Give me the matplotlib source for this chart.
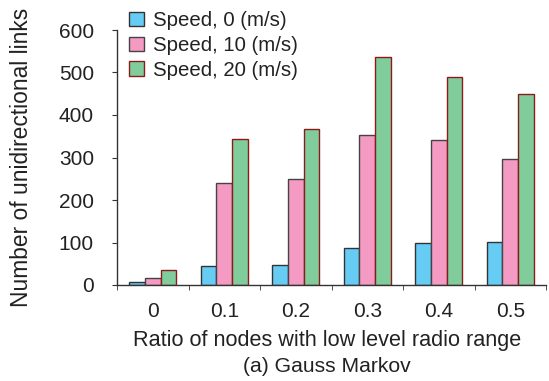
import matplotlib
matplotlib.use("Agg")
import matplotlib.pyplot as plt
import numpy as np

categories = ["0", "0.1", "0.2", "0.3", "0.4", "0.5"]
speed0 = [6, 45, 47, 86, 99, 102]
speed10 = [16, 241, 249, 354, 340, 296]
speed20 = [36, 343, 368, 536, 489, 450]
series_labels = ["Speed, 0 (m/s)", "Speed, 10 (m/s)", "Speed, 20 (m/s)"]
yticks = [0, 100, 200, 300, 400, 500, 600]

plt.rcParams['font.family'] = ['Liberation Sans', 'DejaVu Sans']
plt.rcParams['font.size'] = 15

W, H = 549, 381
L, R, T, B = 117, 546, 30, 285
fig = plt.figure(figsize=(W/100, H/100), dpi=100)
ax = fig.add_axes([L/W, 1-B/H, (R-L)/W, (B-T)/H])

x = np.arange(len(categories))
w = 0.22
fills = ["#66CCF4", "#F49AC3", "#80CC9B"]
edges = ["#333333", "#444444", "#8B1A1A"]
handles = []
for i, (vals, c, e, lab) in enumerate(zip([speed0, speed10, speed20], fills, edges, series_labels)):
    b = ax.bar(x + (i-1)*w, vals, width=w, color=c, edgecolor=e, linewidth=1.0, label=lab, zorder=2)
    handles.append(b)

ax.set_xlim(-0.5, len(categories)-0.5)
ax.set_ylim(0, 600)
ax.set_yticks(yticks)
ax.set_yticklabels([str(t) for t in yticks], color="#222222", fontsize=15)
ax.set_xticks(x)
ax.set_xticklabels(categories, color="#222222", fontsize=15)
ax.tick_params(axis='x', which='major', length=0, pad=12)
ax.set_xticks(np.arange(-0.5, len(categories)), minor=True)
ax.tick_params(axis='x', which='minor', length=3.5, direction='out', color="#333333")
ax.tick_params(axis='y', length=3.6, direction='out', color="#333333", pad=13)
for s in ['top', 'right']:
    ax.spines[s].set_visible(False)
for s in ['left', 'bottom']:
    ax.spines[s].set_color("#333333")
    ax.spines[s].set_linewidth(1.0)

ax.set_ylabel("Number of unidirectional links", color="#222222", fontsize=16.4)
ax.yaxis.set_label_coords((33-L)/(R-L), (B-157)/(B-T))
ax.set_xlabel("Ratio of nodes with low level radio range", color="#222222", fontsize=15.6)
ax.xaxis.set_label_coords((327-L)/(R-L), -(330-B)/(B-T))
fig.text(327/W, 1-367/H, "(a) Gauss Markov", ha="center", va="center", color="#222222", fontsize=15.2)

leg = fig.legend(handles=handles, labels=series_labels, loc="upper left",
                 bbox_to_anchor=(115/W, 1+3/H), frameon=False, fontsize=14.7,
                 handlelength=0.72, handleheight=0.72, handletextpad=0.45,
                 labelspacing=0.28, borderpad=0.2)
for t in leg.get_texts():
    t.set_color("#222222")

fig.savefig("out.png", dpi=100)
